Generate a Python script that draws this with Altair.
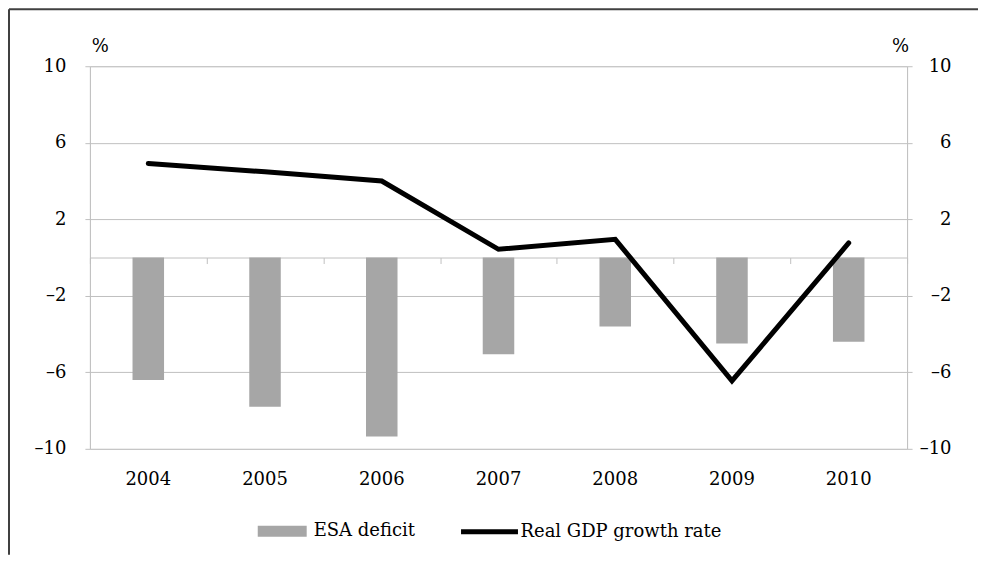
import altair as alt
import pandas as pd

years = ["2004", "2005", "2006", "2007", "2008", "2009", "2010"]
esa_deficit = [-6.4, -7.8, -9.35, -5.05, -3.6, -4.5, -4.4]
gdp_growth = [4.92, 4.48, 4.0, 0.43, 0.95, -6.45, 0.76]
y_ticks = [-10, -6, -2, 2, 6, 10]
bar_label = "ESA deficit"
line_label = "Real GDP growth rate"

df = pd.DataFrame({
    "year": years,
    "deficit": esa_deficit,
    "gdp": gdp_growth,
    "bar_s": [bar_label] * len(years),
    "line_s": [line_label] * len(years),
})

FONT = "DejaVu Serif"
GRID = "#c0c0c0"
TXT = "#000000"
W, H = 818, 383
FS = 18

label_expr = "datum.value < 0 ? '\u2013' + abs(datum.value) : '' + datum.value"

yscale = alt.Scale(domain=[-10, 10], nice=False)
xscale = alt.Scale(type="band", paddingInner=0, paddingOuter=0)

base = alt.Chart(df)

bars = base.mark_bar(width=alt.RelativeBandSize(0.27)).encode(
    x=alt.X("year:O", scale=xscale, axis=alt.Axis(
        orient="bottom", title=None, domain=False, ticks=False, tickSize=0,
        labelAngle=0, labelPadding=22, labelFontSize=FS, labelColor=TXT,
        labelFont=FONT, grid=False)),
    y=alt.Y("deficit:Q", scale=yscale, axis=alt.Axis(
        orient="left", values=y_ticks, grid=True, gridColor=GRID,
        domainColor=GRID, tickColor=GRID, tickSize=5, labelPadding=19,
        labelExpr=label_expr, labelFont=FONT, labelFontSize=FS, labelColor=TXT,
        title="%", titleAngle=0, titleX=10, titleY=-20, titleAlign="center",
        titleBaseline="middle", titleFont=FONT, titleFontSize=FS,
        titleFontWeight="normal", titleColor=TXT)),
    fill=alt.Fill("bar_s:N", scale=alt.Scale(range=["#a6a6a6"]), legend=alt.Legend(
        title=None, orient="none", legendX=168, legendY=441,
        symbolType="M-1,-0.22L1,-0.22L1,0.22L-1,0.22Z", symbolSize=2401,
        symbolStrokeWidth=0, symbolOpacity=1, labelFont=FONT, labelFontSize=FS,
        labelColor=TXT, labelOffset=7, labelLimit=400, padding=0)),
)

line = base.mark_line(strokeWidth=5, strokeCap="round", strokeJoin="miter").encode(
    x=alt.X("year:O", scale=xscale, axis=alt.Axis(
        orient="bottom", offset=-H / 2, title=None, labels=False, domain=True,
        domainColor=GRID, ticks=True, tickBand="extent", tickSize=6,
        tickColor=GRID, grid=False)),
    y=alt.Y("gdp:Q", scale=yscale, axis=alt.Axis(
        orient="right", values=y_ticks, grid=False, domainColor=GRID,
        tickColor=GRID, tickSize=5, labelAlign="right", labelPadding=39,
        labelExpr=label_expr, labelFont=FONT, labelFontSize=FS, labelColor=TXT,
        title="%", titleAngle=0, titleX=-7, titleY=-20, titleAlign="center",
        titleBaseline="middle", titleFont=FONT, titleFontSize=FS,
        titleFontWeight="normal", titleColor=TXT)),
    stroke=alt.Stroke("line_s:N", scale=alt.Scale(range=["#000000"]), legend=alt.Legend(
        title=None, orient="none", legendX=369, legendY=435,
        symbolType="stroke", symbolSize=3249, symbolStrokeWidth=5,
        labelFont=FONT, labelFontSize=FS, labelColor=TXT, labelOffset=0,
        labelLimit=400, padding=0)),
)

frame_data = alt.Data(values=[{}])
frame_top = alt.Chart(frame_data).mark_rule(color="#404040", strokeWidth=2).encode(
    x=alt.value(-81), x2=alt.value(889), y=alt.value(-57))
frame_left = alt.Chart(frame_data).mark_rule(color="#404040", strokeWidth=2).encode(
    x=alt.value(-81), y=alt.value(-57), y2=alt.value(489))

chart = alt.layer(frame_top, frame_left, bars, line).resolve_axis(
    x="independent", y="independent"
).properties(
    width=W, height=H, padding=0
).configure_view(stroke=None).configure(font=FONT)

chart.save("out.html", embed_options={"renderer": "svg", "actions": False})
